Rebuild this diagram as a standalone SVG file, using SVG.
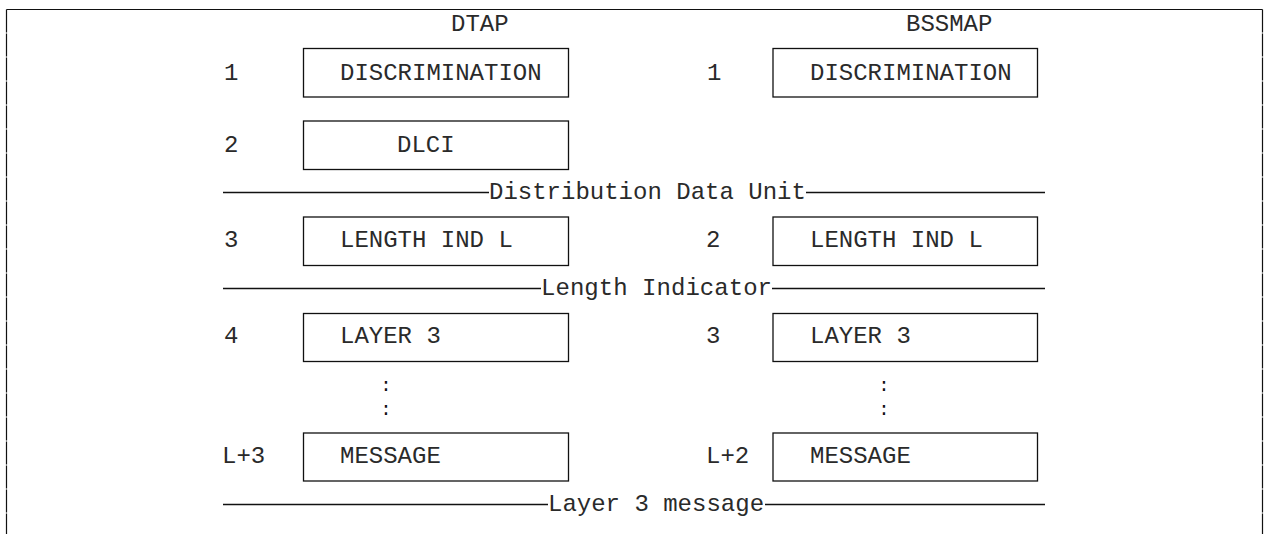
<svg xmlns="http://www.w3.org/2000/svg" width="1267" height="534" viewBox="0 0 1267 534">
<style>
text{font-family:"Liberation Mono","DejaVu Sans Mono",monospace;font-size:24px;fill:#2a2a2a}
.box{fill:none;stroke:#111;stroke-width:1.3}
.sep{stroke:#111;stroke-width:1.3;fill:none}
.frame{stroke:#111;stroke-width:1.2;fill:none}
.dots{font-size:19px;text-anchor:middle;fill:#111}
</style>
<g id="frame">
<line class="frame" x1="6.5" y1="9.5" x2="1262.5" y2="9.5"/>
<line class="frame" x1="6.5" y1="9.5" x2="6.5" y2="534" stroke-dasharray="23 1"/>
<line class="frame" x1="1262.5" y1="9.5" x2="1262.5" y2="534" stroke-dasharray="23 1"/>
</g>
<g id="headers">
<text x="451" y="31">DTAP</text>
<text x="906" y="31">BSSMAP</text>
</g>
<g id="dtap-discrimination">
<rect class="box" x="303.5" y="48.5" width="265" height="48.5"/>
<text x="224" y="80">1</text>
<text x="340" y="80">DISCRIMINATION</text>
</g>
<g id="dtap-dlci">
<rect class="box" x="303.5" y="121" width="265" height="48.5"/>
<text x="224" y="152">2</text>
<text x="397" y="152">DLCI</text>
</g>
<g id="dtap-length">
<rect class="box" x="303.5" y="217" width="265" height="48.5"/>
<text x="224" y="247">3</text>
<text x="340" y="247">LENGTH IND L</text>
</g>
<g id="dtap-layer3">
<rect class="box" x="303.5" y="313.5" width="265" height="48"/>
<text x="224" y="343">4</text>
<text x="340" y="343">LAYER 3</text>
</g>
<g id="dtap-dots">
<text class="dots" x="386" y="391">:</text>
<text class="dots" x="386" y="415">:</text>
</g>
<g id="dtap-message">
<rect class="box" x="303.5" y="433" width="265" height="48"/>
<text x="222" y="463">L+3</text>
<text x="340" y="463">MESSAGE</text>
</g>
<g id="bssmap-discrimination">
<rect class="box" x="773" y="48.5" width="264.5" height="48.5"/>
<text x="707" y="80">1</text>
<text x="810" y="80">DISCRIMINATION</text>
</g>
<g id="bssmap-length">
<rect class="box" x="773" y="217" width="264.5" height="48.5"/>
<text x="706" y="247">2</text>
<text x="810" y="247">LENGTH IND L</text>
</g>
<g id="bssmap-layer3">
<rect class="box" x="773" y="313.5" width="264.5" height="48"/>
<text x="706" y="343">3</text>
<text x="810" y="343">LAYER 3</text>
</g>
<g id="bssmap-dots">
<text class="dots" x="884" y="391">:</text>
<text class="dots" x="884" y="415">:</text>
</g>
<g id="bssmap-message">
<rect class="box" x="773" y="433" width="264.5" height="48"/>
<text x="706" y="463">L+2</text>
<text x="810" y="463">MESSAGE</text>
</g>
<g id="connectors">
<line class="sep" x1="223" y1="192.5" x2="489" y2="192.5"/>
<line class="sep" x1="806" y1="192.5" x2="1045" y2="192.5"/>
<line class="sep" x1="223" y1="288.5" x2="541" y2="288.5"/>
<line class="sep" x1="772" y1="288.5" x2="1045" y2="288.5"/>
<line class="sep" x1="223" y1="504.5" x2="548" y2="504.5"/>
<line class="sep" x1="765" y1="504.5" x2="1045" y2="504.5"/>
</g>
<g id="separator-labels">
<text x="489" y="199">Distribution Data Unit</text>
<text x="541" y="295" textLength="231">Length Indicator</text>
<text x="548" y="511">Layer 3 message</text>
</g>
</svg>
